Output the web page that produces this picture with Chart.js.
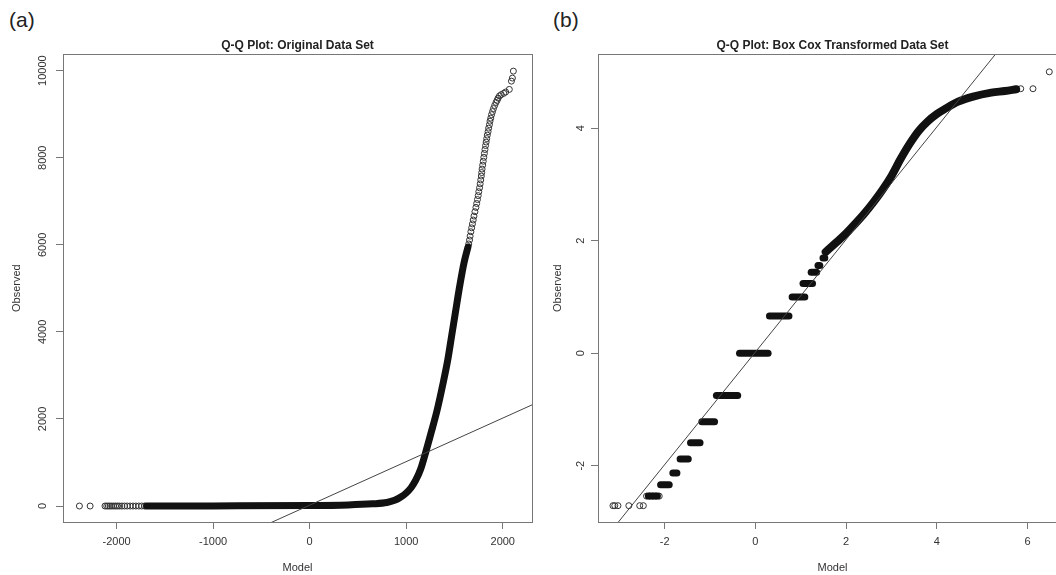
<!DOCTYPE html>
<html lang="en">
<head>
<meta charset="UTF-8">
<title>Q-Q Plots</title>
<script src="https://cdn.jsdelivr.net/npm/chart.js"></script>
<style>
  body {
    margin: 0;
    background: #fff;
    width: 1056px;
    height: 575px;
    overflow: hidden;
    position: relative;
    font-family: 'Liberation Sans', Arial, sans-serif;
  }
  .panel { position: absolute; top: 0; }
  .tag { position: absolute; top: 8px; font-size: 21px; color: #222; }
</style>
</head>
<body>
<div class="tag" style="left:9px">(a)</div>
<div class="tag" style="left:553px">(b)</div>
<canvas id="qqA" class="panel" width="540" height="575" style="left:0"></canvas>
<canvas id="qqB" class="panel" width="540" height="575" style="left:540px"></canvas>
<script>
// ---- panel (a): original data ----
const aTicksX = [-2000, -1000, 0, 1000, 2000];
const aTicksY = [0, 2000, 4000, 6000, 8000, 10000];
// sparse lower tail (circles)
const aTailX = [-2385, -2274, -2120, -2102, -2085, -2068, -2050, -2030, -2010, -1990, -1970, -1945, -1918, -1890, -1860, -1830, -1800, -1770, -1740, -1710];
const aTailY = [0, 0, 0, 0, 0, 0, 0, 0, 0, 0, 0, 0, 0, 0, 0, 0, 0, 0, 0, 0];
// dense band of points
const aBandX = [-1690, -1000, 0, 400, 650, 800, 880, 940, 1000, 1050, 1100, 1150, 1200, 1260, 1320, 1380, 1430, 1470, 1510, 1550, 1600, 1640];
const aBandY = [0, 3, 10, 25, 50, 80, 130, 200, 300, 420, 600, 850, 1220, 1700, 2200, 2800, 3350, 3900, 4450, 5000, 5600, 5950];
// sparse upper tail (circles)
const aTopX = [1648, 1656, 1662, 1670, 1678, 1686, 1694, 1702, 1712, 1722, 1730, 1738, 1746, 1752, 1760, 1766, 1772, 1778, 1782, 1786, 1792, 1798, 1804, 1810, 1816, 1822, 1828, 1834, 1840, 1848, 1854, 1862, 1868, 1876, 1884, 1894, 1904, 1916, 1930, 1942, 1952, 1966, 1984, 2010, 2030, 2068, 2090, 2100, 2110];
const aTopY = [6020, 6110, 6200, 6300, 6390, 6480, 6570, 6660, 6760, 6860, 6950, 7040, 7130, 7220, 7310, 7400, 7490, 7580, 7660, 7740, 7830, 7920, 8010, 8100, 8190, 8280, 8360, 8440, 8520, 8600, 8680, 8760, 8840, 8910, 8990, 9060, 9130, 9200, 9270, 9320, 9370, 9420, 9450, 9480, 9510, 9570, 9760, 9830, 9990];
// reference line
const aLineX = [-2700, 2500];
const aLineY = [-2680, 2520];

// ---- panel (b): Box Cox transformed ----
const bTicksX = [-2, 0, 2, 4, 6];
const bTicksY = [-2, 0, 2, 4];
// tied values drawn as horizontal runs
const bRunY  = [-2.54, -2.34, -2.13, -1.88, -1.59, -1.22, -0.75, 0.0, 0.66, 1.00, 1.24, 1.44, 1.56, 1.69];
const bRunX0 = [-2.36, -2.09, -1.82, -1.66, -1.43, -1.18, -0.86, -0.35, 0.31, 0.81, 1.05, 1.23, 1.38, 1.49];
const bRunX1 = [-2.16, -1.90, -1.73, -1.48, -1.22, -0.90, -0.39, 0.28, 0.74, 1.09, 1.26, 1.35, 1.42, 1.53];
// lowest circles
const bLowX = [-3.14, -3.10, -3.03, -2.79, -2.55, -2.47, -2.40, -2.33, -2.26, -2.19, -2.12];
const bLowY = [-2.71, -2.71, -2.71, -2.71, -2.71, -2.71, -2.54, -2.54, -2.54, -2.54, -2.54];
// continuous upper band
const bBandX = [1.55, 1.8, 2.0, 2.2, 2.4, 2.6, 2.8, 3.0, 3.2, 3.4, 3.6, 3.8, 4.0, 4.2, 4.47, 4.8, 5.2, 5.5, 5.75];
const bBandY = [1.80, 1.98, 2.13, 2.30, 2.48, 2.68, 2.90, 3.15, 3.45, 3.72, 3.95, 4.12, 4.25, 4.35, 4.47, 4.56, 4.63, 4.66, 4.69];
// top circles
const bTopX = [5.85, 6.12, 6.48];
const bTopY = [4.70, 4.70, 5.00];
// reference line
const bLineX = [-3.8, 7.2];
const bLineY = [-3.78, 7.22];

Chart.defaults.font.family = "'Liberation Sans', Arial, sans-serif";
Chart.defaults.color = '#333';

const pts = (xs, ys) => xs.map((x, i) => ({ x: x, y: ys[i] }));

const boxPlugin = {
  id: 'box',
  afterDatasetsDraw(chart) {
    const a = chart.chartArea;
    const ctx = chart.ctx;
    ctx.save();
    ctx.strokeStyle = '#777';
    ctx.lineWidth = 1;
    ctx.strokeRect(Math.round(a.left) + 0.5, Math.round(a.top) + 0.5,
      Math.round(a.right - a.left), Math.round(a.bottom - a.top));
    ctx.restore();
  }
};

function circles(data) {
  return { data: data, pointRadius: 3, pointBorderWidth: 1, pointBorderColor: '#333',
           pointBackgroundColor: 'rgba(0,0,0,0)', showLine: false };
}
function band(data, w) {
  return { data: data, showLine: true, borderColor: '#111', borderWidth: w, pointRadius: 0,
           cubicInterpolationMode: 'monotone', borderCapStyle: 'round', borderJoinStyle: 'round' };
}
function refLine(data) {
  return { data: data, showLine: true, borderColor: '#444', borderWidth: 1, pointRadius: 0 };
}

function makeOptions(o) {
  return {
    responsive: false,
    animation: false,
    events: [],
    layout: { padding: { left: 0, right: o.padRight, top: 0, bottom: 0 } },
    plugins: {
      legend: { display: false },
      tooltip: { enabled: false },
      title: {
        display: true, text: o.title, fullSize: false, color: '#222',
        font: { size: 12, weight: 'bold' }, padding: { top: 38, bottom: 2 }
      }
    },
    scales: {
      x: {
        type: 'linear', position: 'bottom', min: o.xMin, max: o.xMax,
        afterBuildTicks: s => { s.ticks = o.ticksX.map(v => ({ value: v })); },
        afterFit: s => { s.height = 53; },
        grid: { drawOnChartArea: false, drawTicks: true, tickLength: 7, color: '#777' },
        border: { display: false },
        ticks: { autoSkip: false, maxRotation: 0, padding: 6, font: { size: 11 }, callback: v => String(v) },
        title: { display: true, text: 'Model', font: { size: 11 }, padding: { top: 0, bottom: 0 } }
      },
      y: {
        type: 'linear', position: 'left', min: o.yMin, max: o.yMax,
        afterBuildTicks: s => { s.ticks = o.ticksY.map(v => ({ value: v })); },
        afterFit: s => { s.width = o.yWidth; },
        grid: { drawOnChartArea: false, drawTicks: true, tickLength: 7, color: '#777' },
        border: { display: false },
        ticks: { autoSkip: false, minRotation: 90, maxRotation: 90, crossAlign: 'center',
                 padding: o.yPad, font: { size: 11 }, callback: v => String(v) },
        title: { display: true, text: 'Observed', font: { size: 11 }, padding: { top: o.yTitlePad, bottom: 0 } }
      }
    }
  };
}

new Chart(document.getElementById('qqA'), {
  type: 'scatter',
  data: {
    datasets: [
      refLine(pts(aLineX, aLineY)),
      band(pts(aBandX, aBandY), 7),
      circles(pts(aTailX, aTailY)),
      circles(pts(aTopX, aTopY))
    ]
  },
  options: makeOptions({
    title: 'Q-Q Plot: Original Data Set', padRight: 8,
    xMin: -2555, xMax: 2303, yMin: -367, yMax: 10374,
    ticksX: aTicksX, ticksY: aTicksY, yWidth: 63, yPad: -2, yTitlePad: 10
  }),
  plugins: [boxPlugin]
});

const bRuns = bRunY.map((y, i) => band([{ x: bRunX0[i], y: y }, { x: bRunX1[i], y: y }], 7));

new Chart(document.getElementById('qqB'), {
  type: 'scatter',
  data: {
    datasets: [
      refLine(pts(bLineX, bLineY)),
      ...bRuns,
      band(pts(bBandX, bBandY), 8),
      circles(pts(bLowX, bLowY)),
      circles(pts(bTopX, bTopY))
    ]
  },
  options: makeOptions({
    title: 'Q-Q Plot: Box Cox Transformed Data Set', padRight: 13,
    xMin: -3.47, xMax: 6.87, yMin: -3.0, yMax: 5.31,
    ticksX: bTicksX, ticksY: bTicksY, yWidth: 58, yPad: 5, yTitlePad: 11
  }),
  plugins: [boxPlugin]
});
</script>
</body>
</html>
